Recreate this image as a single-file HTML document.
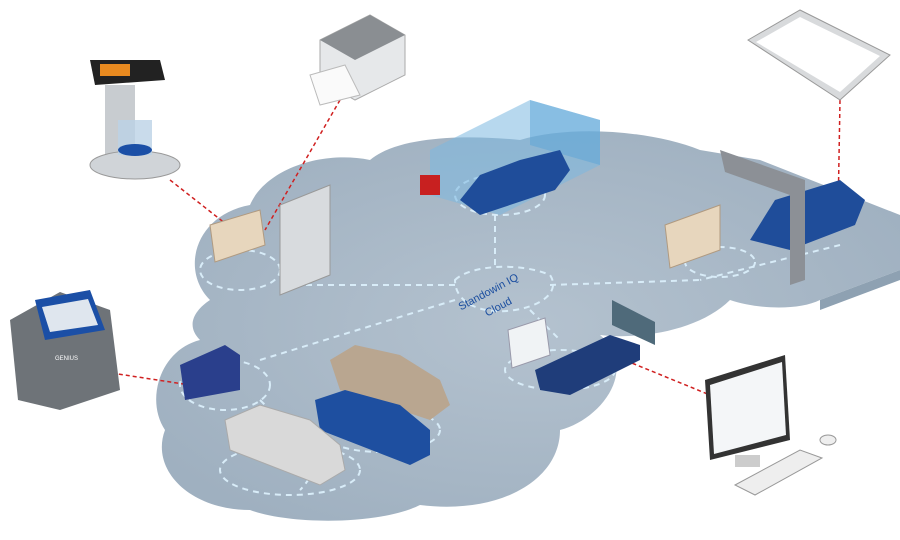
<!DOCTYPE html>
<html><head><meta charset="utf-8"><style>
html,body{margin:0;padding:0;background:#fff;width:900px;height:540px;overflow:hidden}
svg{display:block}
</style></head><body>
<svg width="900" height="540" viewBox="0 0 900 540" xmlns="http://www.w3.org/2000/svg">
<defs>
<radialGradient id="fl" cx="50%" cy="50%" r="60%"><stop offset="0" stop-color="#b4c2cf"/><stop offset="1" stop-color="#9fb0c0"/></radialGradient>
</defs>
<!-- floor cloud -->
<path fill="url(#fl)" d="M210 300 C180 270 195 215 250 205 C265 170 320 150 370 160 C400 135 470 135 520 140 C570 125 650 130 700 150 L760 160 L900 215 L900 270 L820 300 C800 310 760 310 730 300 C700 330 640 340 600 335 C640 370 600 420 560 430 C560 480 500 515 420 505 C380 525 290 525 250 510 C190 510 150 470 165 430 C145 400 160 350 200 340 C185 325 195 310 210 300 Z"/>
<path fill="#8ea1b2" d="M820 300 L900 270 L900 280 L820 310 Z"/>
<!-- dashed connections -->
<g fill="none" stroke="#d8ecf8" stroke-width="2" stroke-dasharray="6 5">
<path d="M455 280 C470 265 520 262 550 275 C560 290 545 305 515 310 C485 315 455 305 455 280 Z"/>
<path d="M495 265 L495 215"/>
<ellipse cx="500" cy="195" rx="45" ry="20"/>
<path d="M455 285 L290 285"/>
<ellipse cx="240" cy="270" rx="40" ry="20"/>
<path d="M550 285 L700 280"/>
<ellipse cx="720" cy="262" rx="35" ry="15"/>
<path d="M840 245 L700 280"/>
<path d="M455 300 L260 360"/>
<ellipse cx="225" cy="385" rx="45" ry="25"/>
<path d="M260 400 C300 440 330 460 300 490"/>
<ellipse cx="290" cy="470" rx="70" ry="25"/>
<ellipse cx="380" cy="430" rx="60" ry="22"/>
<path d="M530 310 L560 340"/>
<ellipse cx="560" cy="370" rx="55" ry="20"/>
</g>
<text x="490" y="295" font-family="Liberation Sans,sans-serif" font-size="11" fill="#1c4fa0" transform="rotate(-28 490 295)" text-anchor="middle">Standowin IQ</text>
<text x="500" y="310" font-family="Liberation Sans,sans-serif" font-size="11" fill="#1c4fa0" transform="rotate(-28 500 310)" text-anchor="middle">Cloud</text>
<!-- red dashed leaders -->
<g stroke="#d02020" stroke-width="1.5" stroke-dasharray="4 3" fill="none">
<path d="M170 180 L240 235"/><path d="M340 100 L265 230"/><path d="M840 100 L838 215"/>
<path d="M105 372 L190 385"/><path d="M600 350 L710 395"/>
</g>
<!-- paint booth -->
<polygon points="430,150 530,100 600,120 600,165 500,215 430,195" fill="#7bb8e0" opacity="0.55"/>
<polygon points="530,100 600,120 600,165 530,145" fill="#5aa4d8" opacity="0.5"/>
<!-- cars -->
<g>
<path d="M460 200 L480 175 L520 160 L560 150 L570 170 L555 190 L480 215 Z" fill="#1f4d9a"/>
<path d="M750 240 L775 200 L840 180 L865 200 L855 225 L790 250 Z" fill="#1f4d9a"/>
<path d="M330 360 L355 345 L400 355 L440 380 L450 405 L430 420 L340 390 Z" fill="#b9a690"/>
<path d="M315 400 L345 390 L400 405 L430 430 L430 455 L410 465 L320 430 Z" fill="#1e4fa0"/>
<path d="M225 420 L260 405 L310 420 L340 445 L345 470 L320 485 L230 450 Z" fill="#d9d9d9" stroke="#aaa"/>
</g>
<!-- shelves -->
<polygon points="280,205 330,185 330,275 280,295" fill="#d8dbde" stroke="#999"/>
<polygon points="210,225 260,210 265,245 215,262" fill="#e7d6bd" stroke="#b09a80"/>
<polygon points="665,225 720,205 720,250 670,268" fill="#e7d6bd" stroke="#b09a80"/>
<polygon points="720,150 805,180 805,280 790,285 790,195 725,172" fill="#8c9096"/>
<polygon points="180,365 225,345 240,355 240,390 185,400" fill="#2a3f8c"/>
<rect x="420" y="175" width="20" height="20" fill="#c82020"/>
<!-- reception -->
<polygon points="535,370 610,335 640,345 640,360 570,395 540,390" fill="#1f3d7a"/>
<polygon points="508,330 545,318 550,355 512,368" fill="#f0f3f5" stroke="#99a"/>
<polygon points="612,300 655,322 655,345 612,325" fill="#4f6a7a"/>
<!-- scale -->
<polygon points="90,60 160,60 165,80 95,85" fill="#222"/>
<rect x="100" y="64" width="30" height="12" fill="#e88a20"/>
<rect x="105" y="85" width="30" height="80" fill="#c8ccd0"/>
<ellipse cx="135" cy="165" rx="45" ry="14" fill="#d0d4d8" stroke="#999"/>
<rect x="118" y="120" width="34" height="35" fill="#bcd2e6" opacity="0.8"/>
<ellipse cx="135" cy="150" rx="17" ry="6" fill="#1b4fa6"/>
<!-- printer -->
<polygon points="320,40 370,15 405,35 405,75 355,100 320,80" fill="#e6e8ea" stroke="#aaa"/>
<polygon points="320,40 370,15 405,35 355,60" fill="#8a8e92"/>
<polygon points="310,75 345,65 360,95 320,105" fill="#fafafa" stroke="#bbb"/>
<!-- tablet -->
<polygon points="748,40 800,10 890,55 840,100" fill="#d8dadc" stroke="#999"/>
<polygon points="756,42 800,17 880,56 840,92" fill="#fff"/>
<!-- GENIUS machine -->
<path d="M10 320 L60 292 L110 310 L120 390 L60 410 L18 400 Z" fill="#6e7378"/>
<polygon points="35,300 90,290 105,330 45,340" fill="#1b4fa6"/>
<polygon points="42,307 88,299 98,325 50,332" fill="#dfe6ee"/>
<text x="55" y="360" font-family="Liberation Sans,sans-serif" font-size="6" fill="#fff">GENIUS</text>
<!-- monitor -->
<polygon points="705,380 785,355 790,440 710,460" fill="#333"/>
<polygon points="710,385 782,362 786,435 714,454" fill="#f4f6f8"/>
<rect x="735" y="455" width="25" height="12" fill="#ccc"/>
<polygon points="735,485 800,450 822,458 755,495" fill="#eee" stroke="#999"/>
<ellipse cx="828" cy="440" rx="8" ry="5" fill="#eee" stroke="#999"/>
</svg>
</body></html>
